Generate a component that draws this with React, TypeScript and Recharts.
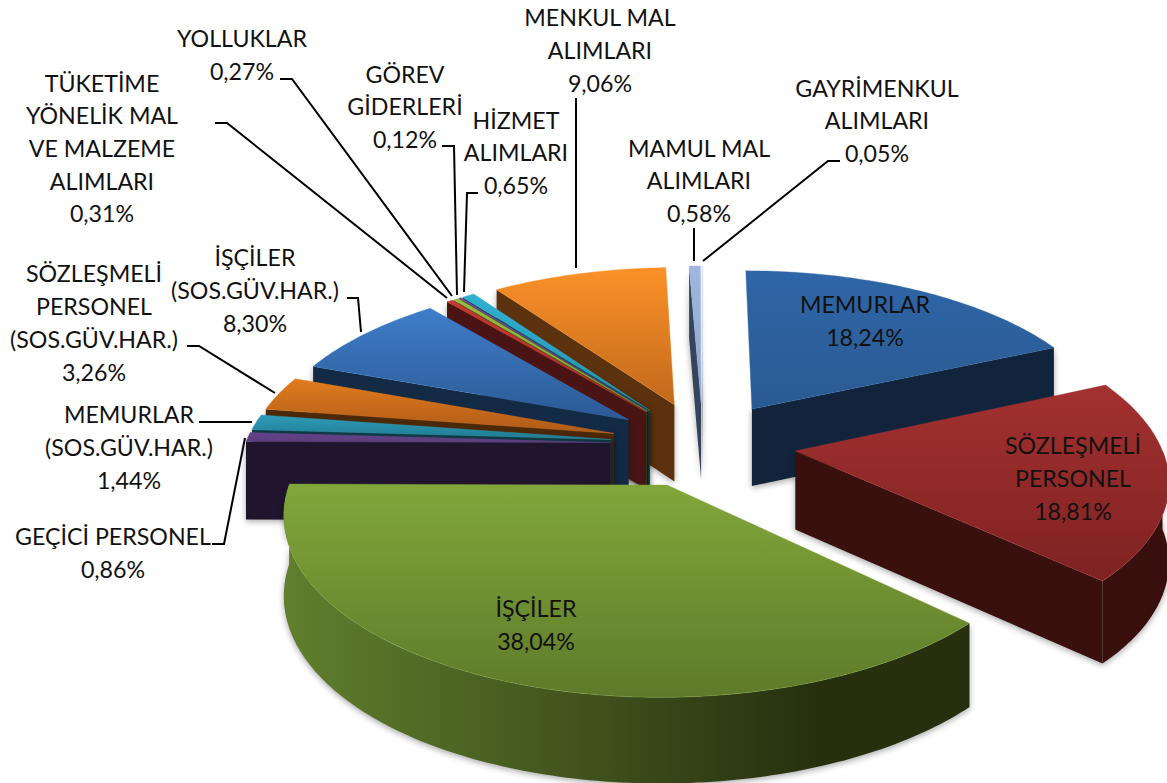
import React from 'react';
import { PieChart, Pie } from 'recharts';

// Sample data
const categories = [
  'MEMURLAR', 'SÖZLEŞMELİ PERSONEL', 'İŞÇİLER', 'GEÇİCİ PERSONEL', 'MEMURLAR (SOS.GÜV.HAR.)',
  'SÖZLEŞMELİ PERSONEL (SOS.GÜV.HAR.)', 'İŞÇİLER (SOS.GÜV.HAR.)', 'TÜKETİME YÖNELİK MAL VE MALZEME ALIMLARI',
  'YOLLUKLAR', 'GÖREV GİDERLERİ', 'HİZMET ALIMLARI', 'MENKUL MAL ALIMLARI', 'MAMUL MAL ALIMLARI', 'GAYRİMENKUL ALIMLARI',
];
const shares = [18.24, 18.81, 38.04, 0.86, 1.44, 3.26, 8.3, 0.31, 0.27, 0.12, 0.65, 9.06, 0.58, 0.05];
const labelLines = [
  ['MEMURLAR'], ['SÖZLEŞMELİ', 'PERSONEL'], ['İŞÇİLER'], ['GEÇİCİ PERSONEL'], ['MEMURLAR', '(SOS.GÜV.HAR.)'],
  ['SÖZLEŞMELİ', 'PERSONEL', '(SOS.GÜV.HAR.)'], ['İŞÇİLER', '(SOS.GÜV.HAR.)'], ['TÜKETİME', 'YÖNELİK MAL', 'VE MALZEME', 'ALIMLARI'],
  ['YOLLUKLAR'], ['GÖREV', 'GİDERLERİ'], ['HİZMET', 'ALIMLARI'], ['MENKUL MAL', 'ALIMLARI'], ['MAMUL MAL', 'ALIMLARI'], ['GAYRİMENKUL', 'ALIMLARI'],
];

const tableData = categories.map((name, i) => ({ name, value: shares[i] }));

// back to front, so the nearer slices cover the walls of the ones behind
const drawOrder = [13, 12, 0, 11, 10, 9, 8, 7, 6, 5, 4, 3, 1, 2];

// [top of face, bottom of face, wall left, wall right, cut side]
const sliceColors = [
  ['#2f66a8', '#2a5a92', '#14283f', '#10233a', '#12243c'],
  ['#a33130', '#7f2222', '#3a100e', '#380f0d', '#3a100e'],
  ['#81a73a', '#5f7a2b', '#617f2d', '#26300f', '#26300f'],
  ['#64438a', '#5b3d7c', '#2a1c3a', '#20152c', '#20152c'],
  ['#2f9cba', '#1f7a90', '#12505f', '#0f3a44', '#0f3a44'],
  ['#e27c20', '#ae5a16', '#5a3008', '#4a2808', '#4a2808'],
  ['#3f7dca', '#2b5a95', '#1a3858', '#132a45', '#132a45'],
  ['#c23a30', '#b03028', '#561616', '#4a1414', '#4a1414'],
  ['#9abb3e', '#8aab38', '#3c4c18', '#324014', '#324014'],
  ['#6f4f9a', '#604488', '#302040', '#281a38', '#281a38'],
  ['#30b0d2', '#2896b2', '#124a58', '#0f4a55', '#0f4a55'],
  ['#fb9128', '#c2691c', '#6a3a10', '#5f340e', '#5c320e'],
  ['#a0b6de', '#8fa6cc', '#3f4f68', '#34445c', '#34445c'],
  ['#dce2f2', '#cdd5ea', '#8c94a8', '#7c8498', '#7c8498'],
];

const WIDTH = 1167;
const HEIGHT = 783;
const CX = 703;
const CY = 444;
const RADIUS = 365;
const EXPLODE = 93;
const TILT = 0.46;
const VIEW = 2500;
const DEPTH = 78;

// [center x, first line center y, line pitch]
const labelPlace: number[][] = [
  [865, 304, 33], [1073, 445, 33], [536, 608, 33], [113, 536, 33], [129, 414, 33],
  [94, 273, 33], [255, 257, 33], [102, 83, 32.7], [242, 38, 33], [405, 74, 32.5],
  [516, 120, 32.5], [600, 17, 33], [699, 148, 32.5], [877, 88, 32.5],
];
const leaders: number[][][] = [
  [[212, 544], [224, 544], [245, 438]],
  [[199, 422], [252, 422]],
  [[187, 346], [199, 346], [275, 393]],
  [[347, 298], [358, 298], [361, 332]],
  [[215, 123], [227, 123], [447, 298]],
  [[280, 79], [292, 79], [452, 296]],
  [[442, 146], [454, 146], [457, 295]],
  [[478, 193], [467, 193], [464, 292]],
  [[576, 98], [576, 268]],
  [[694, 228], [694, 261]],
  [[840, 161], [828, 161], [703, 261]],
];

const rad = (d: number) => (d * Math.PI) / 180;

// takes a point on the pie's plane to the screen, with perspective
const project = (cx: number, cy: number, x: number, y: number, drop = 0) => {
  const s = 1 / (1 - y / VIEW);
  return [cx + x * s, cy + TILT * y * s + drop * Math.sqrt(s)];
};

const toPath = (pts: number[][]) =>
  pts.map((p, i) => `${i ? 'L' : 'M'}${p[0].toFixed(1)},${p[1].toFixed(1)}`).join(' ') + ' Z';

const Slice3D = (props: any) => {
  const { cx, cy, outerRadius, startAngle, endAngle, index } = props;
  const t1 = 90 - startAngle;
  const t2 = 90 - endAngle;
  const mid = (t1 + t2) / 2;
  const ox = EXPLODE * Math.sin(rad(mid));
  const oy = -EXPLODE * Math.cos(rad(mid));
  const colors = sliceColors[index];

  const rim = (t: number, drop = 0) =>
    project(cx, cy, ox + outerRadius * Math.sin(rad(t)), oy - outerRadius * Math.cos(rad(t)), drop);
  const arc = (a: number, b: number, drop = 0) => {
    const n = Math.max(2, Math.ceil(Math.abs(b - a)));
    return Array.from({ length: n + 1 }, (_, i) => rim(a + ((b - a) * i) / n, drop));
  };
  const apex = project(cx, cy, ox, oy);
  const apexLow = project(cx, cy, ox, oy, DEPTH);

  const wallFrom = Math.max(t1, 90);
  const wallTo = Math.min(t2, 270);
  const hasWall = wallTo > wallFrom;
  const endSeen = Math.sin(rad(t2)) > 0;
  const startSeen = Math.sin(rad(t1)) < 0;

  return (
    <g>
      <defs>
        <linearGradient id={`face${index}`} x1="0" y1="0" x2="0" y2="1">
          <stop offset="0%" stopColor={colors[0]} />
          <stop offset="100%" stopColor={colors[1]} />
        </linearGradient>
        <linearGradient id={`wall${index}`} x1="0" y1="0" x2="1" y2="0">
          <stop offset="0%" stopColor={colors[2]} />
          <stop offset="78%" stopColor={colors[3]} />
          <stop offset="100%" stopColor={colors[3]} />
        </linearGradient>
      </defs>
      <g style={{ filter: 'drop-shadow(0px 2px 3px rgba(0,0,0,0.35))' }}>
        {startSeen && <path d={toPath([apex, rim(t1), rim(t1, DEPTH), apexLow])} fill={colors[4]} />}
        {endSeen && <path d={toPath([apex, rim(t2), rim(t2, DEPTH), apexLow])} fill={colors[4]} />}
        {hasWall && (
          <path d={toPath([...arc(wallFrom, wallTo), ...arc(wallTo, wallFrom, DEPTH)])} fill={`url(#wall${index})`} />
        )}
      </g>
      <path d={toPath([apex, ...arc(t1, t2)])} fill={`url(#face${index})`} stroke={colors[0]} strokeOpacity={0.5} strokeWidth={0.8} />
    </g>
  );
};

const LabelText = ({ index }: { index: number }) => {
  const [x, y, pitch] = labelPlace[index];
  const lines = [...labelLines[index], `${shares[index].toFixed(2).replace('.', ',')}%`];
  return (
    <text textAnchor="middle" fontFamily="Lato" fontSize={23.2} fill="#111">
      {lines.map((line, i) => (
        <tspan key={i} x={x} y={y + i * pitch + 8.5}>{line}</tspan>
      ))}
    </text>
  );
};

export default function App() {
  return (
    <div style={{ position: 'absolute', left: 0, top: 0, width: WIDTH, height: HEIGHT, overflow: 'hidden', background: '#fff' }}>
      <PieChart width={WIDTH} height={HEIGHT} margin={{ top: 0, right: 0, bottom: 0, left: 0 }}>
        {drawOrder.map((slice) => (
          <Pie
            key={slice}
            data={tableData}
            dataKey="value"
            nameKey="name"
            cx={CX}
            cy={CY}
            innerRadius={0}
            outerRadius={RADIUS}
            startAngle={90}
            endAngle={-270}
            stroke="none"
            isAnimationActive={false}
            shape={(p: any) => (p.index === slice ? <Slice3D {...p} /> : <g />)}
          />
        ))}
      </PieChart>
      {/* labels sit on top of the pie, the chart draws plain children under its series */}
      <svg width={WIDTH} height={HEIGHT} style={{ position: 'absolute', left: 0, top: 0, pointerEvents: 'none' }}>
        {leaders.map((pts, i) => (
          <polyline key={i} points={pts.map((p) => p.join(',')).join(' ')} fill="none" stroke="#000" strokeWidth={2} />
        ))}
        {categories.map((name, i) => (
          <LabelText key={name} index={i} />
        ))}
      </svg>
    </div>
  );
}
